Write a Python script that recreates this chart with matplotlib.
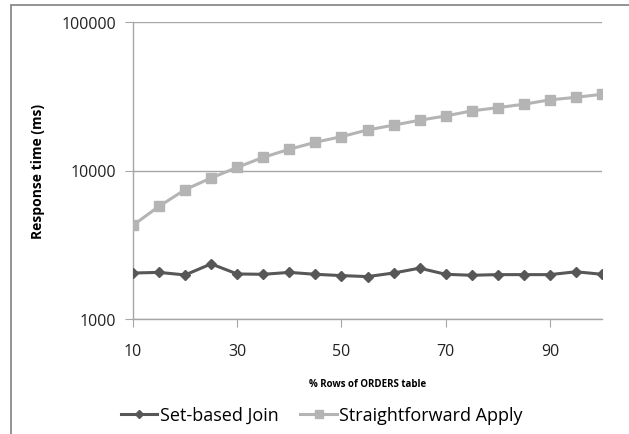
import matplotlib
matplotlib.use("Agg")
import matplotlib.pyplot as plt
from matplotlib.patches import Rectangle
from matplotlib.ticker import FixedLocator, NullLocator

# % rows of ORDERS table
rows_pct = [10, 15, 20, 25, 30, 35, 40, 45, 50, 55, 60, 65, 70, 75, 80, 85, 90, 95, 100]

# response times (ms)
set_based_join = [2040, 2060, 1980, 2350, 2010, 2000, 2060, 2000, 1960, 1930,
                  2040, 2200, 2000, 1970, 1990, 1990, 1990, 2080, 2000]
straightforward_apply = [4280, 5740, 7430, 8910, 10500, 12270, 13900, 15500, 16900, 18750,
                         20200, 21800, 23300, 25200, 26500, 27950, 29900, 31100, 32600]

x_ticks = [10, 30, 50, 70, 90]
y_ticks = [1000, 10000, 100000]

plt.rcParams['font.family'] = ['Open Sans', 'DejaVu Sans']

fig = plt.figure(figsize=(6.29, 4.35), dpi=100)
ax = fig.add_axes([133 / 629, 1 - 320 / 435, 469 / 629, 297 / 435])

dark = '#575757'
light = '#b4b4b4'
axis_col = '#a6a6a6'

ax.plot(rows_pct, straightforward_apply, color=light, marker='s', markersize=6.5,
        linewidth=2.2, label='Straightforward Apply', zorder=3)
ax.plot(rows_pct, set_based_join, color=dark, marker='D', markersize=5.3,
        linewidth=2.2, label='Set-based Join', zorder=4)

ax.set_yscale('log')
ax.set_ylim(1000, 100000)
ax.set_xlim(10, 100)
ax.yaxis.set_major_locator(FixedLocator(y_ticks))
ax.yaxis.set_minor_locator(NullLocator())
ax.set_yticklabels([str(v) for v in y_ticks])
ax.set_xticks(x_ticks)
ax.set_xticklabels([str(v) for v in x_ticks])

ax.grid(axis='y', color=axis_col, linewidth=1)
ax.set_axisbelow(True)
for side in ['top', 'right']:
    ax.spines[side].set_visible(False)
for side in ['left', 'bottom']:
    ax.spines[side].set_color(axis_col)
    ax.spines[side].set_linewidth(1)
ax.tick_params(axis='both', length=6, color=axis_col, labelsize=11.5, labelcolor='#222222', pad=6)
ax.tick_params(axis='x', pad=11)

ax.set_ylabel('Response time (ms)', fontsize=10, fontweight='bold', labelpad=12)
ax.set_xlabel('% Rows of ORDERS table', fontsize=7, fontweight='bold', labelpad=14)

handles, labels = ax.get_legend_handles_labels()
fig.legend(handles[::-1], labels[::-1], loc='center', bbox_to_anchor=(322 / 629, 1 - 416 / 435),
           ncol=2, frameon=False, fontsize=13, handlelength=2.0, handletextpad=0.15,
           columnspacing=1.2, markerscale=0.8)

# outer chart border
fig.patches.append(Rectangle((11 / 629, -0.02), 1.0, 1 - 5.5 / 435 + 0.02,
                             transform=fig.transFigure, fill=False,
                             edgecolor='#808080', linewidth=1.2))

fig.savefig('out.png', dpi=100)
